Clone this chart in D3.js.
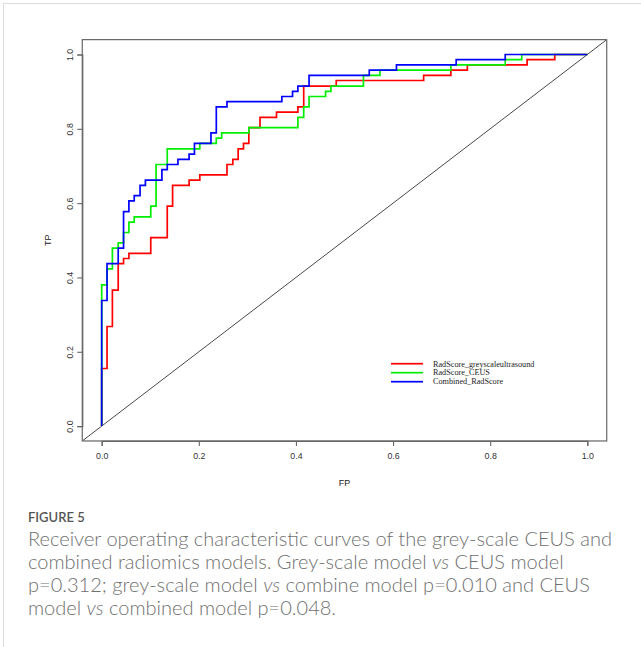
<!DOCTYPE html>
<html>
<head>
<meta charset="utf-8">
<script src="https://cdn.jsdelivr.net/npm/d3@7"></script>
<style>
  html, body { margin: 0; padding: 0; background: #fff; }
  svg { display: block; }
</style>
</head>
<body>
<svg id="fig" width="641" height="647"></svg>
<script>
// ROC curves: false-positive rate (FP) and true-positive rate (TP) at each step corner
const greyFP = [0, 0, 0.011, 0.011, 0.022, 0.022, 0.034, 0.034, 0.045, 0.045, 0.056, 0.056, 0.101, 0.101, 0.135, 0.135, 0.146, 0.146, 0.180, 0.180, 0.202, 0.202, 0.258, 0.258, 0.270, 0.270, 0.281, 0.281, 0.292, 0.292, 0.303, 0.303, 0.326, 0.326, 0.360, 0.360, 0.404, 0.404, 0.416, 0.416, 0.483, 0.483, 0.663, 0.663, 0.719, 0.719, 0.753, 0.753, 0.876, 0.876, 0.933, 0.933, 1];
const greyTP = [0, 0.155, 0.155, 0.268, 0.268, 0.366, 0.366, 0.437, 0.437, 0.451, 0.451, 0.465, 0.465, 0.507, 0.507, 0.592, 0.592, 0.648, 0.648, 0.662, 0.662, 0.676, 0.676, 0.704, 0.704, 0.718, 0.718, 0.746, 0.746, 0.761, 0.761, 0.803, 0.803, 0.831, 0.831, 0.845, 0.845, 0.859, 0.859, 0.915, 0.915, 0.930, 0.930, 0.944, 0.944, 0.958, 0.958, 0.972, 0.972, 0.986, 0.986, 1, 1];

const ceusFP = [0, 0, 0.011, 0.011, 0.022, 0.022, 0.034, 0.034, 0.045, 0.045, 0.056, 0.056, 0.067, 0.067, 0.101, 0.101, 0.112, 0.112, 0.135, 0.135, 0.202, 0.202, 0.236, 0.236, 0.247, 0.247, 0.303, 0.303, 0.404, 0.404, 0.416, 0.416, 0.427, 0.427, 0.461, 0.461, 0.472, 0.472, 0.539, 0.539, 0.573, 0.573, 0.719, 0.719, 0.831, 0.831, 0.865, 0.865, 1];
const ceusTP = [0, 0.380, 0.380, 0.423, 0.423, 0.479, 0.479, 0.493, 0.493, 0.521, 0.521, 0.549, 0.549, 0.563, 0.563, 0.592, 0.592, 0.704, 0.704, 0.746, 0.746, 0.761, 0.761, 0.775, 0.775, 0.789, 0.789, 0.803, 0.803, 0.831, 0.831, 0.859, 0.859, 0.887, 0.887, 0.901, 0.901, 0.915, 0.915, 0.944, 0.944, 0.958, 0.958, 0.972, 0.972, 0.986, 0.986, 1, 1];

const combFP = [0, 0, 0.011, 0.011, 0.034, 0.034, 0.045, 0.045, 0.056, 0.056, 0.067, 0.067, 0.079, 0.079, 0.090, 0.090, 0.124, 0.124, 0.135, 0.135, 0.157, 0.157, 0.180, 0.180, 0.191, 0.191, 0.225, 0.225, 0.236, 0.236, 0.258, 0.258, 0.371, 0.371, 0.393, 0.393, 0.404, 0.404, 0.427, 0.427, 0.551, 0.551, 0.607, 0.607, 0.730, 0.730, 0.831, 0.831, 1];
const combTP = [0, 0.338, 0.338, 0.437, 0.437, 0.479, 0.479, 0.577, 0.577, 0.606, 0.606, 0.620, 0.620, 0.648, 0.648, 0.662, 0.662, 0.690, 0.690, 0.704, 0.704, 0.718, 0.718, 0.732, 0.732, 0.761, 0.761, 0.789, 0.789, 0.859, 0.859, 0.873, 0.873, 0.887, 0.887, 0.901, 0.901, 0.915, 0.915, 0.944, 0.944, 0.958, 0.958, 0.972, 0.972, 0.986, 0.986, 1, 1];

const seriesNames = ["RadScore_greyscaleultrasound", "RadScore_CEUS", "Combined_RadScore"];
const seriesColors = ["#ff0000", "#00ee00", "#0000ff"];
const tickValues = [0, 0.2, 0.4, 0.6, 0.8, 1.0];
const xTitle = "FP";
const yTitle = "TP";
const figureLabel = "FIGURE 5";

const series = [
  { name: seriesNames[0], color: seriesColors[0], pts: greyFP.map((f, i) => [f, greyTP[i]]) },
  { name: seriesNames[1], color: seriesColors[1], pts: ceusFP.map((f, i) => [f, ceusTP[i]]) },
  { name: seriesNames[2], color: seriesColors[2], pts: combFP.map((f, i) => [f, combTP[i]]) }
];

const svg = d3.select("#fig");

// page frame
svg.append("rect").attr("x", 3.5).attr("y", 3.5).attr("width", 700).attr("height", 700)
  .attr("fill", "none").attr("stroke", "#dcdcdc").attr("stroke-width", 1);

// plot region: data range padded by 4% on each side, as in base R graphics
const x0 = 101.7, x1 = 587.3, y0 = 426.1, y1 = 54.5;
const x = d3.scaleLinear().domain([0, 1]).range([x0, x1]);
const y = d3.scaleLinear().domain([0, 1]).range([y0, y1]);
const [bx0, bx1] = [x(-0.04), x(1.04)];
const [by0, by1] = [y(-0.04), y(1.04)];

svg.append("clipPath").attr("id", "plotclip")
  .append("rect").attr("x", bx0).attr("y", by1).attr("width", bx1 - bx0).attr("height", by0 - by1);

const plot = svg.append("g").attr("clip-path", "url(#plotclip)");

// chance line
plot.append("line")
  .attr("x1", x(-0.04)).attr("y1", y(-0.04)).attr("x2", x(1.04)).attr("y2", y(1.04))
  .attr("stroke", "#333").attr("stroke-width", 0.9);

const line = d3.line().x(d => x(d[0])).y(d => y(d[1]));
series.forEach(s => {
  plot.append("path").attr("d", line(s.pts))
    .attr("fill", "none").attr("stroke", s.color).attr("stroke-width", 1.7)
    .attr("stroke-linejoin", "miter");
});

// box
svg.append("rect").attr("x", bx0).attr("y", by1).attr("width", bx1 - bx0).attr("height", by0 - by1)
  .attr("fill", "none").attr("stroke", "#666").attr("stroke-width", 1.2);

// axes
const axisFont = "'Liberation Sans', Arial, Helvetica, sans-serif";
const xAxis = svg.append("g").attr("transform", `translate(0,${by0})`)
  .call(d3.axisBottom(x).tickValues(tickValues).tickFormat(d3.format(".1f")).tickSize(5).tickPadding(7));
const yAxis = svg.append("g").attr("transform", `translate(${bx0},0)`)
  .call(d3.axisLeft(y).tickValues(tickValues).tickFormat(d3.format(".1f")).tickSize(5).tickPadding(5));

[xAxis, yAxis].forEach(a => {
  a.select(".domain").attr("stroke", "#666").attr("stroke-width", 1.2);
  a.selectAll(".tick line").attr("stroke", "#666").attr("stroke-width", 1.1);
  a.selectAll(".tick text").attr("fill", "#333").style("font-family", axisFont).style("font-size", "8.8px");
});
yAxis.selectAll(".tick text")
  .attr("x", null).attr("dy", null)
  .attr("text-anchor", "middle")
  .attr("transform", "translate(-9,0) rotate(-90)");

svg.append("text").attr("x", (x0 + x1) / 2).attr("y", 485.5).attr("text-anchor", "middle")
  .attr("fill", "#222").style("font-family", axisFont).style("font-size", "9px").text(xTitle);
svg.append("text").attr("transform", `translate(50.5,${(y0 + y1) / 2}) rotate(-90)`).attr("text-anchor", "middle")
  .attr("fill", "#222").style("font-family", axisFont).style("font-size", "9px").text(yTitle);

// legend
const legend = svg.append("g").attr("transform", "translate(391,363.7)");
series.forEach((s, i) => {
  legend.append("line").attr("x1", 0).attr("x2", 32).attr("y1", i * 9).attr("y2", i * 9)
    .attr("stroke", s.color).attr("stroke-width", 1.7);
  legend.append("text").attr("x", 42).attr("y", i * 9 + 2.8)
    .attr("fill", "#222").style("font-family", "'Liberation Serif', 'Times New Roman', serif")
    .style("font-size", "8.2px").text(s.name);
});

// caption
const capFont = "Lato, 'Open Sans', sans-serif";
svg.append("text").attr("x", 28).attr("y", 522)
  .attr("fill", "#555").style("font-family", capFont).style("font-size", "13px")
  .style("font-weight", 600).text(figureLabel);

const captionLines = [
  [["Receiver operating characteristic curves of the grey-scale CEUS and", false]],
  [["combined radiomics models. Grey-scale model ", false], ["vs", true], [" CEUS model", false]],
  [["p=0.312; grey-scale model ", false], ["vs", true], [" combine model p=0.010 and CEUS", false]],
  [["model ", false], ["vs", true], [" combined model p=0.048.", false]]
];
const captionWidth = 584;   // first line runs the full text column
const capTexts = captionLines.map((parts, i) => {
  const t = svg.append("text").attr("x", 28).attr("y", 545.5 + i * 23)
    .attr("fill", "#707070").style("font-family", capFont).style("font-size", "17px")
    .style("font-weight", 300);
  parts.forEach(([str, it]) => {
    t.append("tspan").style("font-style", it ? "italic" : "normal").text(str);
  });
  return t;
});
const w0 = capTexts[0].node().getComputedTextLength();
const capSize = 17 * captionWidth / w0;
capTexts.forEach(t => t.style("font-size", capSize.toFixed(2) + "px"));
</script>
</body>
</html>
